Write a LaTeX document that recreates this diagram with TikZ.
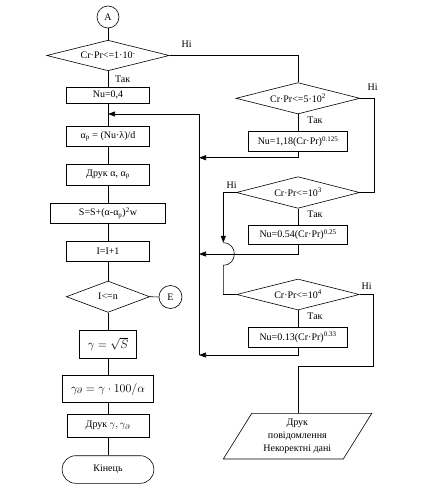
\documentclass[tikz,border=0pt]{standalone}
\usepackage{fontspec}
\setmainfont{Liberation Serif}
\usetikzlibrary{shapes.geometric,arrows.meta}
\begin{document}
\begin{tikzpicture}[x=1pt,y=-1pt,line width=0.6pt,
  font=\fontsize{10}{13}\selectfont,
  box/.style={draw,rectangle,inner sep=1pt},
  dec/.style={draw,diamond,aspect=4,inner sep=0pt},
  conn/.style={draw,circle,minimum size=22pt,inner sep=0pt},
  term/.style={draw,rectangle,rounded corners=13.5pt,inner sep=1pt},
  arr/.style={-{Triangle[length=7pt,width=5pt]}},
  lbl/.style={inner sep=0pt}]
\useasboundingbox (0,0) rectangle (423,489);
% left column
\node[conn] (A) at (108,17) {A};
\node[dec,minimum width=122.6pt,minimum height=30.5pt] (d1) at (108,55.5) {Cr·Pr<=1·10\textsuperscript{-}};
\node[box,minimum width=82.6pt,minimum height=16pt] (n0) at (108,95.3) {Nu=0,4};
\node[box,minimum width=82.6pt,minimum height=20pt] (ap) at (108,136) {α\textsubscript{р} = (Nu·λ)/d};
\node[box,minimum width=82.6pt,minimum height=20.7pt] (pr1) at (108,174.7) {Друк α, α\textsubscript{р}};
\node[box,minimum width=114.6pt,minimum height=20pt] (S) at (108,213.3) {S=S+(α-α\textsubscript{р})\textsuperscript{2}w};
\node[box,minimum width=82.6pt,minimum height=20.7pt] (I) at (108,251.3) {I=I+1};
\node[dec,minimum width=83.3pt,minimum height=31.3pt] (d5) at (108,296.7) {I<=n};
\node[conn,minimum size=23pt] (E) at (170.5,297) {E};
\node[box,minimum width=56.7pt,minimum height=27.6pt,font=\large] (g) at (108,344.5) {$\gamma=\sqrt{S}$};
\node[box,minimum width=91pt,minimum height=27.4pt,font=\large] (gd) at (108,389) {$\gamma_\partial=\gamma\cdot 100/\alpha$};
\node[box,minimum width=82pt,minimum height=23.7pt] (pr2) at (108,425.8) {Друк $\gamma,\gamma_\partial$};
\node[term,minimum width=91.7pt,minimum height=27.6pt] (end) at (108,469.5) {Кінець};
% right column
\node[dec,minimum width=124pt,minimum height=31.3pt] (d2) at (298,98.3) {Cr·Pr<=5·10\textsuperscript{2}};
\node[box,minimum width=99pt,minimum height=20pt] (n1) at (298,141.7) {Nu=1,18(Cr·Pr)\textsuperscript{0.125}};
\node[dec,minimum width=123.3pt,minimum height=31.6pt] (d3) at (298,192.5) {Cr·Pr<=10\textsuperscript{3}};
\node[box,minimum width=99pt,minimum height=19.3pt] (n2) at (298,234.7) {Nu=0.54(Cr·Pr)\textsuperscript{0.25}};
\node[dec,minimum width=122.7pt,minimum height=31pt] (d4) at (298,294.5) {Cr·Pr<=10\textsuperscript{4}};
\node[box,minimum width=99pt,minimum height=20.4pt] (n3) at (298,337.5) {Nu=0.13(Cr·Pr)\textsuperscript{0.33}};
\node[align=center,inner sep=0pt] (msg) at (297.3,436.2) {Друк\\повідомлення\\Некоректні дані};
\draw (msg.center) ++(-74,22.8) -- ++(28.5,-45.7) -- ++(120,0) -- ++(-28.5,45.7) -- cycle;
\coordinate (ptop) at (298,413.3);
% coordinates
\coordinate (j0) at (108,114);
\coordinate (c0) at (199,114);
\coordinate (c1) at (199,157.7);
\coordinate (c2) at (199,254);
\coordinate (c3) at (199,355);
\coordinate (r2) at (374,98.3);
\coordinate (h1) at (223.3,242.8);
\coordinate (h2) at (223.3,265.2);
\coordinate (r4) at (373.3,366);
% main line
\draw (A) -- (d1);
\draw (d1) -- (n0);
\draw (n0) -- (ap);
\draw (ap) -- (pr1);
\draw (pr1) -- (S);
\draw (S) -- (I);
\draw (I) -- (d5);
\draw (d5) -- (g);
\draw (g) -- (gd);
\draw (gd) -- (pr2);
\draw (pr2) -- (end);
\draw (d5.east) -- (E.west);
% collector
\draw[arr] (c0) -- (j0);
\draw (c3) -- (c0);
\draw[arr] (n1.south) |- (c1);
\draw[arr] (n2.south) |- (c2);
\draw[arr] (n3.south) |- (c3);
% branches
\draw (d1.east) -| (d2.north);
\draw (d2) -- (n1);
\draw (d2.east) -- (r2) |- (d3.east);
\draw (d3) -- (n2);
\draw[arr] (d3.west) -| (h1);
\draw (h1) .. controls +(14.7,0) and +(14.7,0) .. (h2) |- (d4.west);
\draw (d4) -- (n3);
\draw (d4.east) -| (r4) -| (ptop);
% labels
\node[lbl] (l1) at (186.7,44) {Ні};
\node[lbl] (l2) at (372.7,87.3) {Ні};
\node[lbl] (l3) at (231.7,185) {Ні};
\node[lbl] (l4) at (366.7,285.7) {Ні};
\node[lbl] (t1) at (122.7,79.3) {Так};
\node[lbl] (t2) at (315,120.7) {Так};
\node[lbl] (t3) at (315,214.3) {Так};
\node[lbl] (t4) at (315,316.7) {Так};
\end{tikzpicture}
\end{document}
